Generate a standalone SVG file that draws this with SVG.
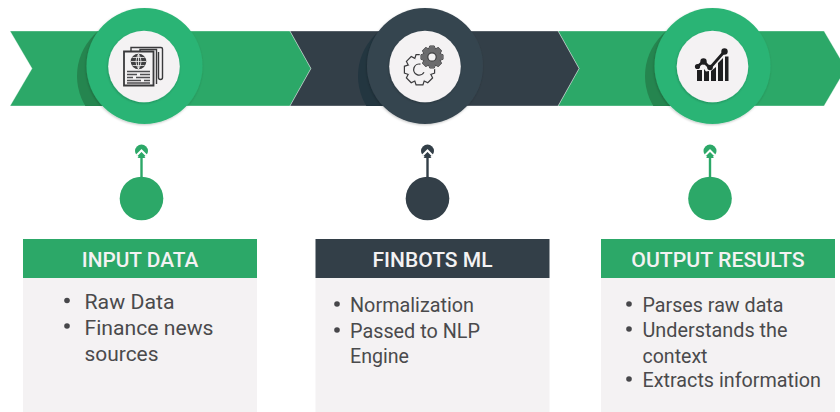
<svg xmlns="http://www.w3.org/2000/svg" width="840" height="412" viewBox="0 0 840 412">
<style>
.g{fill:#2ca868}.d{fill:#333f48}.gl{fill:#2bb474}.dl{fill:#36454f}.gs{fill:#25854f}.ds{fill:#233640}
.w{fill:#f4f2f3}.gst{stroke:#2ca868}.dst{stroke:#333f48}
.stem{stroke-width:2.4;fill:none}
.band{stroke:#fff;stroke-opacity:.45;stroke-width:.8}
.hd{font:500 21px Roboto,"Liberation Sans",sans-serif;fill:#f4f2f3;text-anchor:middle}
.tx{font:400 20.4px Roboto,"Liberation Sans",sans-serif;fill:#4a4a4c}
.ic{fill:none;stroke:#3a3a3c;stroke-width:1.4}
.bul{fill:#47474a}
.tip{fill:none;stroke:#fff;stroke-width:2}
</style>
<defs>
<clipPath id="b1"><rect x="0" y="31" width="290" height="75"/></clipPath>
<clipPath id="b2"><rect x="290" y="31" width="280" height="75"/></clipPath>
<clipPath id="b3"><rect x="560" y="31" width="280" height="75"/></clipPath>
<filter id="sh" x="-20%" y="-20%" width="140%" height="140%"><feDropShadow dx="-0.5" dy="1" stdDeviation="1" flood-color="#000" flood-opacity=".22"/></filter>
<g id="teeth">
<path id="t" d="M-3-14.500H3L4.500-10H-4.500Z"/>
<use href="#t" transform="rotate(45)"/><use href="#t" transform="rotate(90)"/><use href="#t" transform="rotate(135)"/><use href="#t" transform="rotate(180)"/><use href="#t" transform="rotate(225)"/><use href="#t" transform="rotate(270)"/><use href="#t" transform="rotate(315)"/>
<circle r="11"/>
</g>
</defs>
<g id="band-3"><polygon class="g band" points="558,31 824,31 846,68.500 824,106 558,106 579,68.500"/></g>
<g id="band-1"><polygon class="g band" points="10,31 290,31 311,68.500 290,106 10,106 32,68.500"/></g>
<g id="band-2"><polygon class="d band" points="290,31 558,31 579,68.500 558,106 290,106 311,68.500"/></g>

<g id="node-input-icon">
<circle class="gs" cx="135" cy="76" r="58" clip-path="url(#b1)"/>
<circle class="gl" cx="144.500" cy="66" r="58" filter="url(#sh)"/>
<circle class="w" cx="144" cy="66.500" r="35.800" filter="url(#sh)"/>
<path class="ic" d="M131 51V47.500H161Q162.500 47.500 162.500 49V77.500Q162.500 79.500 160.500 79.500Q158.500 79.500 158.500 77.500V52"/>
<path class="ic" d="M140 51V49.500H156.500V84"/>
<path d="M124 51.500H153.500V85.500H124Z" fill="none" stroke="#3a3a3c" stroke-width="1.800"/>
<circle cx="138.500" cy="61.500" r="7.800" fill="#3f3f41"/>
<path d="M131 61.500H146M138.500 54V69M132.500 57.500H144.500M132.500 65.500H144.500M138.500 54Q133.500 61.500 138.500 69Q143.500 61.500 138.500 54" fill="none" stroke="#f4f2f3" stroke-width=".8"/>
<path d="M127 71.500H150M127 74.500H137M140 74.500H150M127 77.500H133M136 77.500H150M127 80.500H141M144 80.500H150M127 83H150" fill="none" stroke="#4e4e50" stroke-width="1.400"/>
</g>

<g id="node-finbots-icon">
<circle class="ds" cx="416" cy="76" r="58" clip-path="url(#b2)"/>
<circle class="dl" cx="425" cy="66" r="58" filter="url(#sh)"/>
<circle class="w" cx="425" cy="66.500" r="35.800" filter="url(#sh)"/>
<g transform="translate(419.500 69.700)">
<use href="#teeth" fill="#3a3a3c" stroke="#3a3a3c" stroke-width="2.400"/>
<use href="#teeth" fill="#f4f2f3"/>
<path d="M4.500 2.500A5.500 5.500 0 1 1 1 -5.500" fill="none" stroke="#3a3a3c" stroke-width="1.300"/>
</g>
<circle class="w" cx="432" cy="57" r="12.500"/>
<g transform="translate(432 57) scale(.76)">
<use href="#teeth" fill="#6c6c6e" stroke="#3a3a3c" stroke-width="1.300"/>
<use href="#teeth" fill="#6c6c6e"/>
<circle r="5.500" fill="#f4f2f3" stroke="#3a3a3c" stroke-width="1.500"/>
</g>
</g>

<g id="node-output-icon">
<circle class="gs" cx="703" cy="76" r="58" clip-path="url(#b3)"/>
<circle class="gl" cx="712.500" cy="66" r="58" filter="url(#sh)"/>
<circle class="w" cx="712.500" cy="66.500" r="35.800" filter="url(#sh)"/>
<path fill="#1e1e20" d="M697 81V70H702V81ZM704 81V69L706 71.500L709 71V81ZM711 81V71L716 67V81ZM718 81V63L723 58V81ZM725 81V56.500H728.500V81Z"/>
<path d="M697.500 66.500L703.500 61.500L710 68L724 52" fill="none" stroke="#1e1e20" stroke-width="2.800"/>
<circle cx="697.500" cy="66.500" r="2.600" fill="#1e1e20"/><circle cx="703.500" cy="61.500" r="3.200" fill="#1e1e20"/><circle cx="710" cy="67.500" r="2.800" fill="#1e1e20"/><circle cx="724.500" cy="51.500" r="3.200" fill="#1e1e20"/>
</g>

<g id="connectors">
<path class="stem gst" d="M141.500 156V178"/>
<path class="stem dst" d="M427.500 156V178"/>
<path class="stem gst" d="M710 156V178"/>
</g>

<g id="node-input-marker">
<circle class="g" cx="141.500" cy="198.500" r="21.800"/>
<circle class="g" cx="141.500" cy="151" r="6.500"/>
<path class="tip" d="M136.500 155.500L141.500 150.500L146.500 155.500"/>
<path class="g" d="M137.500 158L141.500 154L145.500 158Z"/>
</g>
<g id="node-finbots-marker">
<circle class="d" cx="427.500" cy="198.500" r="21.800"/>
<circle class="d" cx="427.500" cy="151" r="6.500"/>
<path class="tip" d="M422.500 155.500L427.500 150.500L432.500 155.500"/>
<path class="d" d="M423.500 158L427.500 154L431.500 158Z"/>
</g>
<g id="node-output-marker">
<circle class="g" cx="710" cy="198.500" r="21.800"/>
<circle class="g" cx="710" cy="151" r="6.500"/>
<path class="tip" d="M705 155.500L710 150.500L715 155.500"/>
<path class="g" d="M706 158L710 154L714 158Z"/>
</g>

<g id="card-input">
<rect class="w" x="23" y="278" width="234" height="134"/>
<rect class="g" x="23" y="239" width="234" height="39"/>
<text class="hd" x="140" y="267" textLength="116.500" lengthAdjust="spacingAndGlyphs">INPUT DATA</text>
<circle class="bul" cx="67" cy="300.500" r="2.800"/><circle class="bul" cx="67" cy="326" r="2.800"/>
<text class="tx" x="84.500" y="309" textLength="90" lengthAdjust="spacingAndGlyphs">Raw Data</text>
<text class="tx" x="84.500" y="335" textLength="129" lengthAdjust="spacingAndGlyphs">Finance news</text>
<text class="tx" x="84.500" y="361" textLength="74" lengthAdjust="spacingAndGlyphs">sources</text>
</g>
<g id="card-finbots">
<rect class="w" x="315.500" y="278" width="234" height="134"/>
<rect class="d" x="315.500" y="239" width="234" height="39"/>
<text class="hd" x="432.500" y="267" textLength="120" lengthAdjust="spacingAndGlyphs">FINBOTS ML</text>
<circle class="bul" cx="337" cy="304" r="2.800"/><circle class="bul" cx="337" cy="330" r="2.800"/>
<text class="tx" x="350" y="312" textLength="124" lengthAdjust="spacingAndGlyphs">Normalization</text>
<text class="tx" x="350" y="338" textLength="130" lengthAdjust="spacingAndGlyphs">Passed to NLP</text>
<text class="tx" x="350" y="363" textLength="59" lengthAdjust="spacingAndGlyphs">Engine</text>
</g>
<g id="card-output">
<rect class="w" x="601" y="278" width="234" height="134"/>
<rect class="g" x="601" y="239" width="234" height="39"/>
<text class="hd" x="718" y="267" textLength="173.500" lengthAdjust="spacingAndGlyphs">OUTPUT RESULTS</text>
<circle class="bul" cx="629" cy="304" r="2.800"/><circle class="bul" cx="629" cy="329" r="2.800"/><circle class="bul" cx="629" cy="379" r="2.800"/>
<text class="tx" x="642.500" y="312" textLength="141" lengthAdjust="spacingAndGlyphs">Parses raw data</text>
<text class="tx" x="642.500" y="337" textLength="145" lengthAdjust="spacingAndGlyphs">Understands the</text>
<text class="tx" x="642.500" y="363" textLength="65" lengthAdjust="spacingAndGlyphs">context</text>
<text class="tx" x="642.500" y="387" textLength="178.500" lengthAdjust="spacingAndGlyphs">Extracts information</text>
</g>
</svg>
